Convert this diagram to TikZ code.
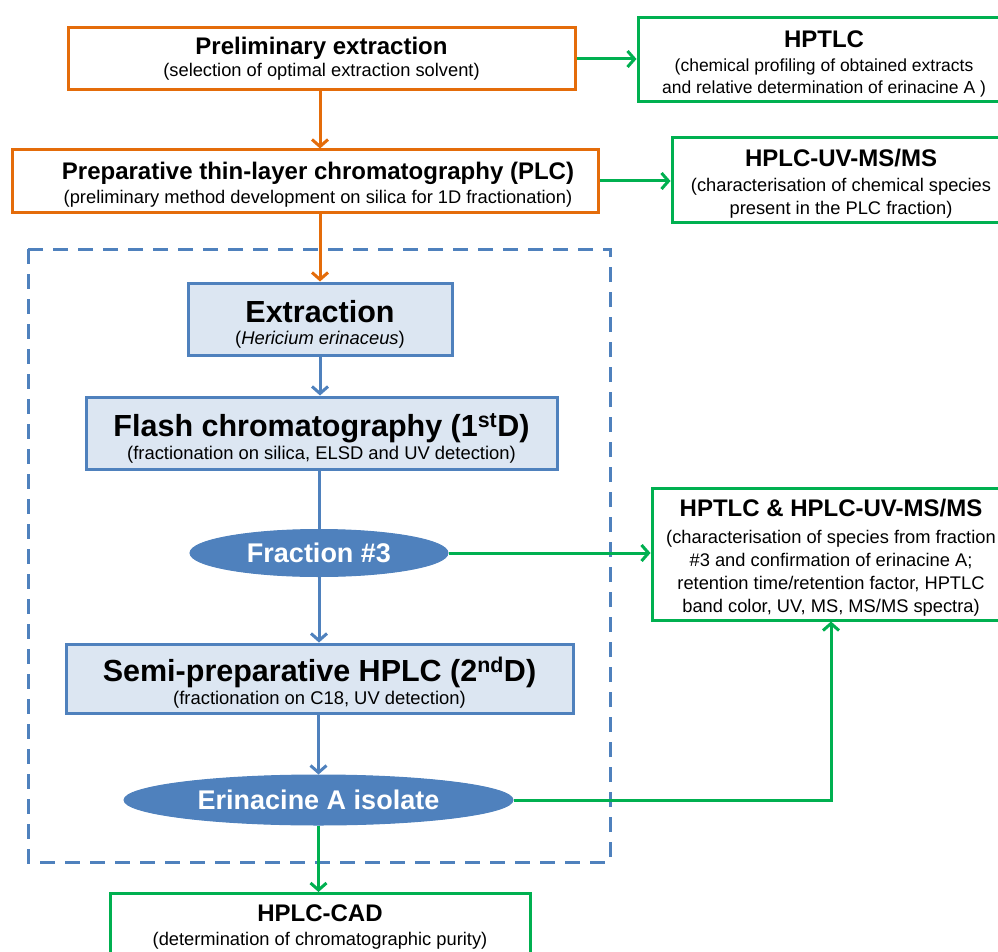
\documentclass[tikz,border=0pt]{standalone}
\usepackage{fontspec}
\setmainfont{Liberation Sans}
\usetikzlibrary{shapes.geometric,arrows.meta}
\definecolor{orng}{HTML}{E46C0A}
\definecolor{grn}{HTML}{00B050}
\definecolor{blu}{HTML}{4F81BD}
\definecolor{bfill}{HTML}{DCE6F2}
\newcommand{\ttl}[1]{{\fontsize{24}{24}\selectfont\bfseries\rule{0pt}{25pt}#1}}
\newcommand{\plainttl}[1]{{\fontsize{24}{24}\selectfont\bfseries #1}}
\newcommand{\bigttl}[1]{{\fontsize{30.5}{30}\selectfont\bfseries\rule{0pt}{33pt}#1}}
\tikzset{
  obox/.style={draw=orng, line width=3pt, fill=white, inner sep=0pt, align=center, font=\fontsize{18.3}{23}\selectfont},
  gbox/.style={draw=grn, line width=3pt, fill=white, inner sep=0pt, align=center, font=\fontsize{18.3}{23}\selectfont},
  bbox/.style={draw=blu, line width=3pt, fill=bfill, inner sep=0pt, align=center, font=\fontsize{18.4}{25}\selectfont},
  ell/.style={ellipse, draw=blu, fill=blu, line width=1pt, inner sep=0pt, text=white, font=\fontsize{27}{30}\selectfont\bfseries},
  arr/.style={line width=3pt, -{Straight Barb[length=7pt,width=16pt,line width=3pt]}},
}
\begin{document}
\begin{tikzpicture}[x=1pt,y=-1pt]
\useasboundingbox (0,0) rectangle (998,952);
\clip (0,0) rectangle (998,952);
% dashed frame
\draw[blu, line width=3pt, dash pattern=on 15pt off 10pt] (28,249) rectangle (610,862);
% boxes
\node[obox, minimum width=507pt, minimum height=62pt] (box1) at (321.5,59)
  {\plainttl{Preliminary extraction}\\[-1pt](selection of optimal extraction solvent)};
\node[gbox, font=\fontsize{17.5}{22.5}\selectfont, minimum width=372pt, minimum height=84pt] (hptlc) at (824,60)
  {\ttl{HPTLC}\\[1pt](chemical profiling of obtained extracts\\and relative determination of erinacine A )};
\node[obox, minimum width=586pt, minimum height=62pt] (plc) at (305,181)
  {\hspace*{26pt}\ttl{Preparative thin-layer chromatography (PLC)}\\[1pt]\hspace*{26pt}(preliminary method development on silica for 1D fractionation)};
\node[gbox, minimum width=338pt, minimum height=84pt] (hplcuv) at (841,180)
  {\ttl{HPLC-UV-MS/MS}\\[2pt](characterisation of chemical species\\present in the PLC fraction)};
\node[bbox, minimum width=264pt, minimum height=72pt] (extr) at (320,319)
  {\bigttl{Extraction}\\[-3pt](\textit{Hericium erinaceus})};
\node[bbox, minimum width=471pt, minimum height=72pt] (flash) at (321.5,433)
  {\bigttl{Flash chromatography (1\textsuperscript{st}D)}\\[-2pt](fractionation on silica, ELSD and UV detection)};
\node[ell, minimum width=258pt, minimum height=47pt] (frac) at (319,553)
  {Fraction \#3};
\node[gbox, minimum width=358pt, minimum height=132pt] (hh) at (831,554)
  {\ttl{HPTLC \& HPLC-UV-MS/MS}\\[4pt]
   (characterisation of species from fraction\\
   \#3 and confirmation of erinacine A;\\
   retention time/retention factor, HPTLC\\
   band color, UV, MS, MS/MS spectra)};
\node[bbox, minimum width=507pt, minimum height=69pt] (semi) at (319.5,678.5)
  {\bigttl{Semi-preparative HPLC (2\textsuperscript{nd}D)}\\[-2pt](fractionation on C18, UV detection)};
\node[ell, minimum width=389pt, minimum height=50pt] (erin) at (318.5,800)
  {Erinacine A isolate};
\node[gbox, minimum width=420pt, minimum height=74pt, anchor=north] (cad) at (320,892)
  {\plainttl{HPLC-CAD}\\[1pt](determination of chromatographic purity)\\[-12pt]\mbox{}};
% connectors
\draw[arr, grn] (box1.east) -- (box1.east -| hptlc.west);
\draw[arr, orng] (box1.south -| 320,0) -- (plc.north -| 320,0);
\draw[arr, grn] (plc.east) -- (plc.east -| hplcuv.west);
\draw[arr, orng] (plc.south -| 320,0) -- (extr.north);
\draw[arr, blu] (extr.south) -- (flash.north -| extr.south);
\draw[line width=3pt, blu] (flash.south -| frac.north) -- (frac.north);
\draw[arr, blu] (frac.south) -- (semi.north -| frac.south);
\draw[arr, grn] (frac.east) -- (frac.east -| hh.west);
\draw[arr, blu] (semi.south -| erin.north) -- (erin.north);
\draw[arr, grn] (erin.east) -| (hh.south);
\draw[arr, grn] (erin.south) -- (cad.north -| erin.south);
\end{tikzpicture}
\end{document}
